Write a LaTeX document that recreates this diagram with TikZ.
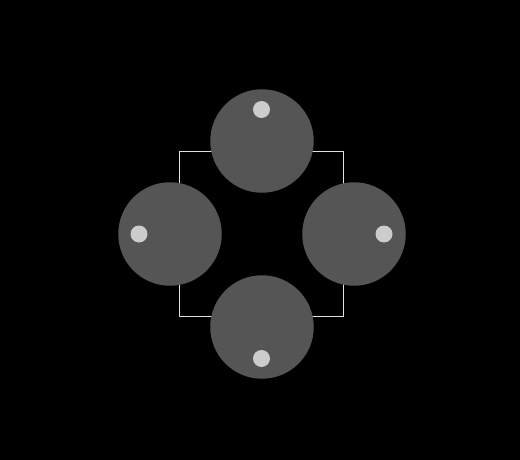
\documentclass[tikz,border=0pt]{standalone}
\usepackage{tikz}
\usetikzlibrary{positioning}

\definecolor{knobgray}{RGB}{85,85,85}
\definecolor{pipgray}{RGB}{204,204,204}
\definecolor{framegray}{RGB}{225,225,225}

\begin{document}
\begin{tikzpicture}[x=1pt, y=-1pt,
		knob/.style = {circle, fill=knobgray, minimum size=103.5pt, inner sep=0pt},
		pip/.style = {circle, fill=pipgray, minimum size=17pt, inner sep=0pt}]
		\fill[black] (0,0) rectangle (520,460);
		\useasboundingbox (0,0) rectangle (520,460);
		% frame behind the knobs
		\draw[framegray, line width=1pt] (179.5,151.5) rectangle (343.5,316);
		% knobs
		\node[knob] (top) at (262,141) {};
		\node[knob] (left) at (170,234) {};
		\node[knob] (right) at (354,234) {};
		\node[knob] (bottom) at (262,327) {};
		% pips
		\node[pip] (toppip) at (261.5,109.5) {};
		\node[pip] (leftpip) at (139,234) {};
		\node[pip] (rightpip) at (384,234) {};
		\node[pip] (bottompip) at (261.5,358.5) {};
	\end{tikzpicture}
\end{document}
